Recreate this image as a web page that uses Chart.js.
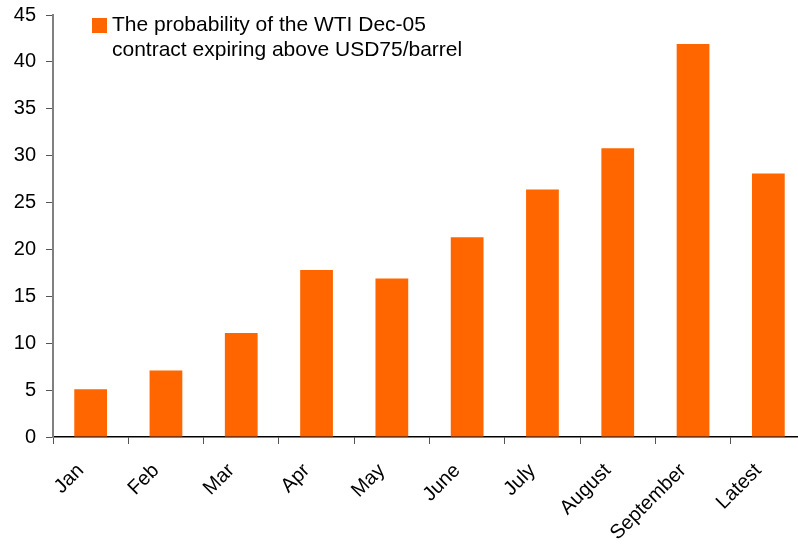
<!DOCTYPE html>
<html>
<head>
<meta charset="utf-8">
<script src="https://cdn.jsdelivr.net/npm/chart.js@4/dist/chart.umd.min.js"></script>
<style>
  html, body { margin: 0; padding: 0; background: #fff; overflow: hidden; }
  #wrap { position: relative; width: 806px; height: 545px; }
</style>
</head>
<body>
<div id="wrap"><canvas id="c"></canvas></div>
<script>
const categories = ["Jan", "Feb", "Mar", "Apr", "May", "June", "July", "August", "September", "Latest"];
const probabilityValues = [5.1, 7.1, 11.1, 17.8, 16.9, 21.3, 26.4, 30.8, 41.9, 28.1];
const legendLines = ["The probability of the WTI Dec-05", "contract expiring above USD75/barrel"];
const yTicks = [0, 5, 10, 15, 20, 25, 30, 35, 40, 45];

const FONT = "'Liberation Sans', Arial, sans-serif";
const ORANGE = "#FF6600";

const legendPlugin = {
  id: "twoLineLegend",
  afterDraw(chart) {
    const ctx = chart.ctx;
    ctx.save();
    ctx.fillStyle = ORANGE;
    ctx.fillRect(92, 18, 15, 15);
    ctx.fillStyle = "#000";
    ctx.font = "21px " + FONT;
    ctx.textBaseline = "alphabetic";
    ctx.textAlign = "left";
    ctx.fillText(legendLines[0], 112, 31);
    ctx.fillText(legendLines[1], 112, 56);
    ctx.restore();
  }
};

new Chart(document.getElementById("c"), {
  type: "bar",
  data: {
    labels: categories,
    datasets: [{
      label: legendLines.join(" "),
      data: probabilityValues,
      backgroundColor: ORANGE,
      borderWidth: 0,
      categoryPercentage: 1.0,
      barPercentage: 0.435
    }]
  },
  options: {
    responsive: true,
    maintainAspectRatio: false,
    animation: false,
    layout: { padding: { top: 15, right: 0, left: 0, bottom: 0 } },
    plugins: {
      legend: { display: false },
      tooltip: { enabled: false }
    },
    scales: {
      x: {
        offset: true,
        grid: {
          offset: true,
          drawOnChartArea: false,
          drawTicks: true,
          tickLength: 7,
          color: "#555"
        },
        border: { display: true, color: "#000", width: 1.5 },
        ticks: {
          color: "#000",
          font: { family: FONT, size: 20 },
          maxRotation: 45,
          minRotation: 45,
          autoSkip: false,
          padding: 15,
          labelOffset: -10
        },
        afterFit(scale) { scale.height = 108; }
      },
      y: {
        min: 0,
        max: 45,
        afterBuildTicks(scale) { scale.ticks = yTicks.map(v => ({ value: v })); },
        grid: {
          drawOnChartArea: false,
          drawTicks: true,
          tickLength: 7,
          color: "#555"
        },
        border: { display: true, color: "#808080", width: 2 },
        ticks: {
          color: "#000",
          font: { family: FONT, size: 20, lineHeight: 0.5 },
          padding: 10
        },
        afterFit(scale) { scale.width = 53; }
      }
    }
  },
  plugins: [legendPlugin]
});
</script>
</body>
</html>
